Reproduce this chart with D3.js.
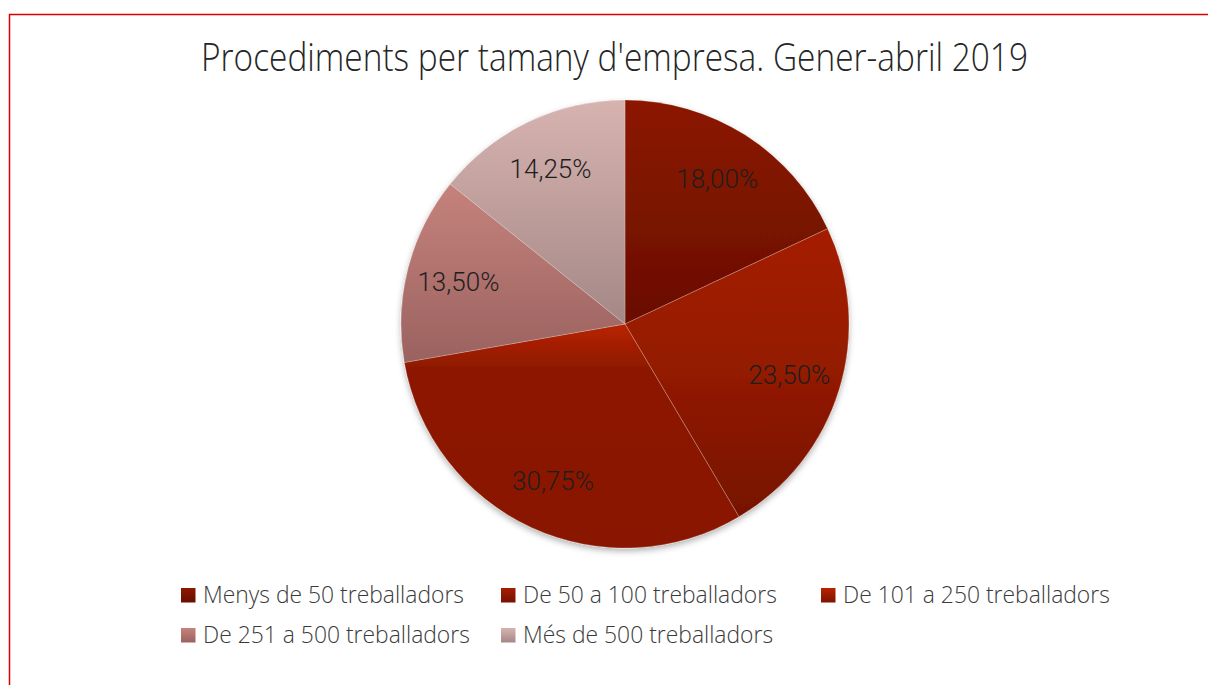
<!DOCTYPE html>
<html>
<head>
<meta charset="utf-8">
<script src="https://cdn.jsdelivr.net/npm/d3@7"></script>
<style>
  html, body { margin: 0; padding: 0; background: #fff; }
  svg { display: block; }
</style>
</head>
<body>
<svg id="chart" width="1208" height="685"></svg>
<script>
// Company-size categories and their share of procedures (Jan–Apr 2019)
const categories = [
  "Menys de 50 treballadors",
  "De 50 a 100 treballadors",
  "De 101 a 250 treballadors",
  "De 251 a 500 treballadors",
  "Més de 500 treballadors"
];
const shares = [18.00, 23.50, 30.75, 13.50, 14.25];
const chartTitle = "Procediments per tamany d'empresa. Gener-abril 2019";

// Gradient stops per slice: [offset, colour], lighter on top, darker below
const sliceStops = [
  [[0, "#8c1800"], [1, "#690e00"]],
  [[0, "#a51e00"], [0.5, "#931a00"], [1, "#761100"]],
  [[0, "#b92300"], [0.2, "#8d1900"], [1, "#891700"]],
  [[0, "#c6827c"], [1, "#9a625f"]],
  [[0, "#d7b3b0"], [1, "#a48886"]]
];
const legendStops = [
  [[0, "#8c1800"], [1, "#690e00"]],
  [[0, "#a51e00"], [1, "#761100"]],
  [[0, "#b92300"], [1, "#7c1400"]],
  [[0, "#c6827c"], [1, "#9a625f"]],
  [[0, "#d7b3b0"], [1, "#a48886"]]
];

const svg = d3.select("#chart");
const defs = svg.append("defs");

function addGradient(id, stops) {
  const g = defs.append("linearGradient")
    .attr("id", id).attr("x1", 0).attr("y1", 0).attr("x2", 0).attr("y2", 1);
  stops.forEach(([o, c]) => g.append("stop").attr("offset", o).attr("stop-color", c));
}
sliceStops.forEach((s, i) => addGradient("slice" + i, s));
legendStops.forEach((s, i) => addGradient("key" + i, s));

const shadow = defs.append("filter").attr("id", "pieShadow")
  .attr("x", "-10%").attr("y", "-10%").attr("width", "120%").attr("height", "125%");
shadow.append("feDropShadow")
  .attr("dx", 0).attr("dy", 3).attr("stdDeviation", 3)
  .attr("flood-color", "#000").attr("flood-opacity", 0.3);

// Chart-area frame
svg.append("rect")
  .attr("x", 9.5).attr("y", 14.5).attr("width", 1230).attr("height", 700)
  .attr("fill", "none").attr("stroke", "#d80000").attr("stroke-width", 1.5);

// Title, condensed to a narrow typeface proportion
const title = svg.append("text")
  .attr("x", 614.5).attr("y", 71)
  .attr("text-anchor", "middle")
  .attr("font-family", "'Open Sans', sans-serif")
  .attr("font-weight", 300)
  .attr("font-size", 39)
  .attr("fill", "#262626")
  .text(chartTitle);
const titleNatural = title.node().getComputedTextLength();
title.attr("textLength", 827).attr("lengthAdjust", "spacingAndGlyphs");

// Pie
const cx = 625, cy = 324, radius = 224, labelRadius = 172;
const pie = d3.pie().sort(null).value(d => d)(shares);
const arc = d3.arc().innerRadius(0).outerRadius(radius);
const labelArc = d3.arc().innerRadius(labelRadius).outerRadius(labelRadius);

const locale = d3.formatLocale({ decimal: ",", thousands: ".", grouping: [3], currency: ["", "€"] });
const pct = v => locale.format(".2f")(v) + "%";

const pieG = svg.append("g").attr("transform", `translate(${cx},${cy})`);
pieG.append("g").attr("filter", "url(#pieShadow)")
  .selectAll("path").data(pie).join("path")
  .attr("d", arc)
  .attr("fill", (d, i) => `url(#slice${i})`)
  .attr("stroke", "rgba(255,255,255,0.3)")
  .attr("stroke-width", 0.75);

pieG.selectAll("text.val").data(pie).join("text")
  .attr("class", "val")
  .attr("transform", d => `translate(${labelArc.centroid(d)})`)
  .attr("text-anchor", "middle")
  .attr("dy", "0.36em")
  .attr("font-family", "Roboto, sans-serif")
  .attr("font-weight", 300)
  .attr("font-size", 26)
  .attr("fill", "#1e1e1e")
  .text(d => pct(d.data));

// Legend: three columns, two rows
const legendX = d3.scalePoint().domain([0, 1, 2]).range([181, 821]);
const legendY = d3.scalePoint().domain([0, 1]).range([588, 628]);
const keySize = 14.5;
const legend = svg.append("g");
const items = legend.selectAll("g").data(categories).join("g")
  .attr("transform", (d, i) => `translate(${legendX(i % 3)},${legendY(Math.floor(i / 3))})`);
items.append("rect")
  .attr("width", keySize).attr("height", keySize)
  .attr("fill", (d, i) => `url(#key${i})`);
const legendText = items.append("text")
  .attr("x", 22).attr("y", keySize + 0.5)
  .attr("font-family", "'Open Sans', sans-serif")
  .attr("font-weight", 300)
  .attr("font-size", 24.5)
  .attr("fill", "#3a3a3a")
  .text(d => d);
// Stretch legend entries uniformly so the first one spans 261px
const legendStretch = 261 / legendText.node().getComputedTextLength();
legendText.each(function () {
  const w = this.getComputedTextLength();
  d3.select(this).attr("textLength", w * legendStretch).attr("lengthAdjust", "spacingAndGlyphs");
});
</script>
</body>
</html>
